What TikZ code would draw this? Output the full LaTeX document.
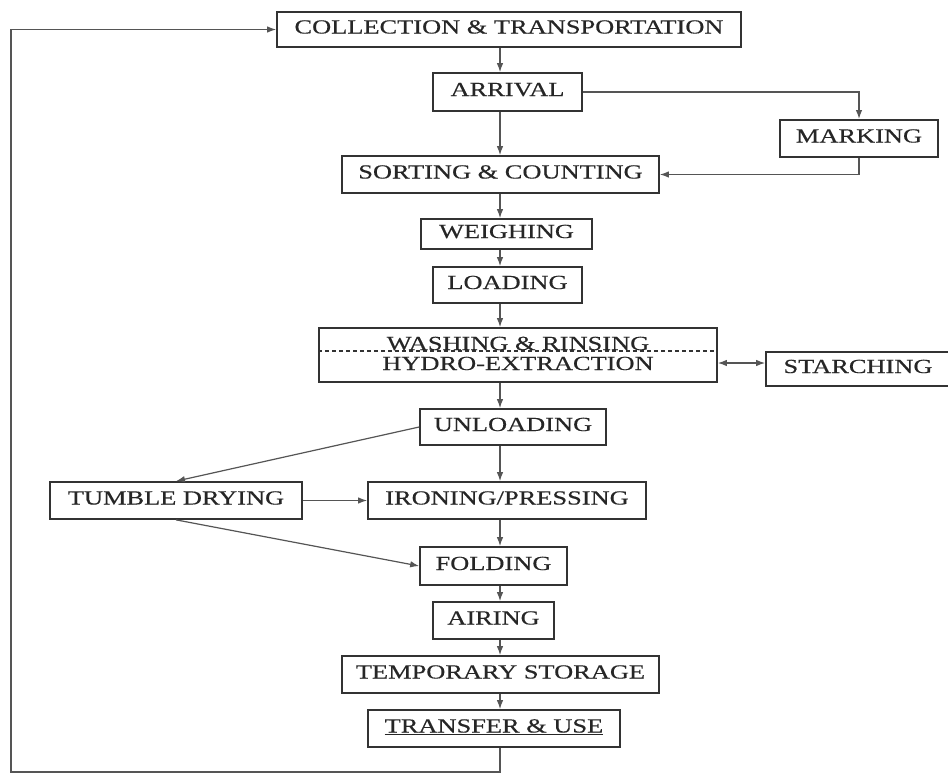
\documentclass[tikz,border=0pt]{standalone}
\usepackage{fontspec}
\setmainfont[FakeStretch=1.32,FakeBold=0.4]{Liberation Serif}
\usetikzlibrary{arrows.meta}
\definecolor{boxline}{HTML}{333333}
\definecolor{conn}{HTML}{555555}
\tikzset{
  stepbox/.style={draw=boxline, line width=1.7pt, inner sep=0pt, fill=white,
    text height=14pt, text depth=6pt,
    font=\fontsize{20}{22}\selectfont, text=black!85},
  link/.style={draw=conn, line width=1.2pt, -{Latex[length=9pt,width=6.5pt]}},
  dlink/.style={draw=conn, line width=1.2pt, {Latex[length=9pt,width=6.5pt]}-{Latex[length=9pt,width=6.5pt]}},
  lbl/.style={inner sep=0pt, font=\fontsize{20}{22}\selectfont, text=black!85}
}
\begin{document}
\begin{tikzpicture}[x=1pt,y=-1pt]
\useasboundingbox (0,0) rectangle (948,774);
\fill[white] (0,0) rectangle (948,774);
\coordinate (spine) at (500,0);
\coordinate (sw) at (0,363);
\coordinate (lb) at (11,772);

\node[stepbox, minimum width=464pt, minimum height=35pt] (coll) at (509,29.5) {COLLECTION \& TRANSPORTATION};
\node[stepbox, minimum width=149pt, minimum height=38pt] (arr) at (507.5,92) {ARRIVAL};
\node[stepbox, minimum width=158pt, minimum height=37pt] (mark) at (859,138.5) {MARKING};
\node[stepbox, minimum width=317pt, minimum height=37pt] (sort) at (500.5,174.5) {SORTING \& COUNTING};
\node[stepbox, minimum width=171pt, minimum height=30pt] (weigh) at (506.5,234) {WEIGHING};
\node[stepbox, minimum width=149pt, minimum height=36pt] (load) at (507.5,285) {LOADING};
\node[stepbox, minimum width=398pt, minimum height=54pt] (wash) at (518,355) {};
\node[stepbox, minimum width=184pt, minimum height=34pt] (starch) at (858,369) {STARCHING};
\node[stepbox, minimum width=186pt, minimum height=36pt] (unload) at (513,427) {UNLOADING};
\node[stepbox, minimum width=252pt, minimum height=37pt] (tumble) at (176,500.5) {TUMBLE DRYING};
\node[stepbox, minimum width=278pt, minimum height=37pt] (iron) at (507,500.5) {IRONING/PRESSING};
\node[stepbox, minimum width=147pt, minimum height=38pt] (fold) at (493.5,566) {FOLDING};
\node[stepbox, minimum width=121pt, minimum height=37pt] (air) at (493.5,620.5) {AIRING};
\node[stepbox, minimum width=317pt, minimum height=37pt] (temp) at (500.5,674.5) {TEMPORARY STORAGE};
\node[stepbox, minimum width=252pt, minimum height=37pt] (trans) at (494,728.5) {\underline{TRANSFER \& USE}};

% washing box contents
\draw[boxline, line width=1.2pt, dash pattern=on 4pt off 3pt] (wash.west |- 0,351) -- (wash.east |- 0,351);
\node[lbl, anchor=base] (washt) at (518,350) {WASHING \& RINSING};
\node[lbl, anchor=base] (hydro) at (518,370) {HYDRO-EXTRACTION};

% spine connectors
\draw[link] (coll.south -| spine) -- (arr.north -| spine);
\draw[link] (arr.south -| spine) -- (sort.north -| spine);
\draw[link] (sort.south -| spine) -- (weigh.north -| spine);
\draw[link] (weigh.south -| spine) -- (load.north -| spine);
\draw[link] (load.south -| spine) -- (wash.north -| spine);
\draw[link] (wash.south -| spine) -- (unload.north -| spine);
\draw[link] (unload.south -| spine) -- (iron.north -| spine);
\draw[link] (iron.south -| spine) -- (fold.north -| spine);
\draw[link] (fold.south -| spine) -- (air.north -| spine);
\draw[link] (air.south -| spine) -- (temp.north -| spine);
\draw[link] (temp.south -| spine) -- (trans.north -| spine);

% side connectors
\draw[link, line width=1.6pt] (arr.east) -| (mark.north);
\draw[link] (mark.south) |- (sort.east);
\draw[dlink] (wash.east |- sw) -- (starch.west |- sw);
\draw[link] (unload.west) -- (tumble.north);
\draw[link] (tumble.east) -- (iron.west);
\draw[link] (tumble.south) -- (fold.west);

% feedback loop
\draw[link] (trans.south -| spine) |- (lb) |- (coll.west);
\end{tikzpicture}
\end{document}
